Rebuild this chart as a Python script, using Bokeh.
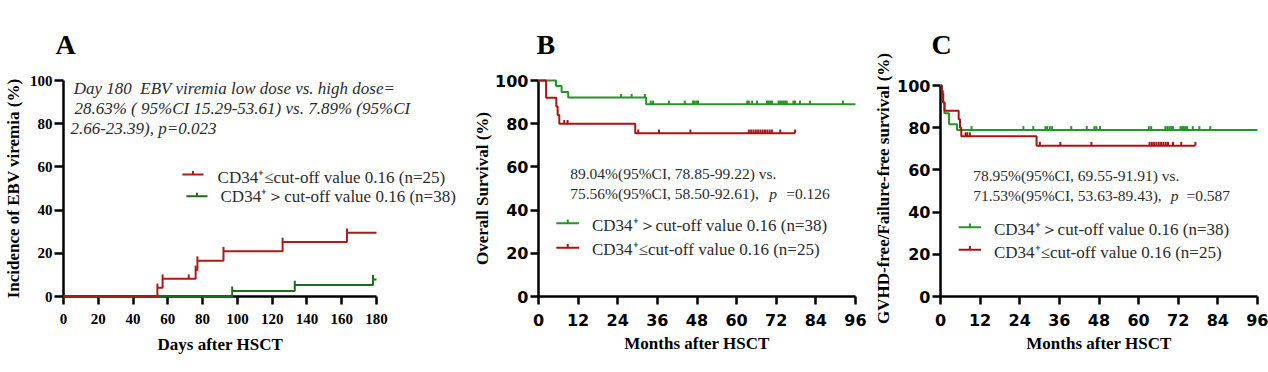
import numpy as np
from bokeh.plotting import figure
from bokeh.layouts import row
from bokeh.models import Range1d, FixedTicker, Label, Title
from bokeh.embed import file_html
from bokeh.resources import INLINE

# ---------------- data ----------------
# Panel A: cumulative incidence of EBV viremia (%), days after HSCT
a_red_t = [0, 54, 57, 76, 77, 92, 126, 163]
a_red_v = [0, 4.0, 8.2, 12.3, 16.6, 21.0, 25.2, 29.5]
a_red_end = 180
a_red_cens = [54, 57, 72, 76, 77, 92, 126, 163]
a_green_t = [0, 97, 133, 178]
a_green_v = [0, 2.6, 5.3, 7.9]
a_green_end = 180
a_green_cens = [97, 133, 178]

# Panel B: overall survival (%), months after HSCT
b_green_t = [0, 5.3, 7.0, 9.0, 32.6]
b_green_v = [100, 97.4, 94.7, 92.1, 89.0]
b_green_end = 96
b_green_cens = [25.0, 28.2, 32.2, 34.0, 34.7, 39.5, 44.3, 46.8, 47.3, 47.9, 48.3,
                63.2, 63.7, 64.7, 66.2, 69.2, 69.7, 70.2, 70.7, 72.7, 73.2, 73.7,
                74.2, 74.7, 75.2, 77.2, 77.7, 79.2, 82.2, 92.2]
b_red_t = [0, 2.3, 5.4, 5.8, 6.3, 29.3]
b_red_v = [100, 92, 88, 84, 80, 75.6]
b_red_end = 77.7
b_red_cens = [7.8, 8.8, 30.2, 36.5, 46.0, 63.7, 64.4, 65.1, 65.8, 66.5, 67.2,
              67.9, 68.6, 69.3, 70.0, 70.7, 73.2, 77.7]

# Panel C: GVHD-free/failure-free survival (%), months after HSCT
c_green_t = [0, 0.4, 0.8, 1.2, 2.6, 5.0]
c_green_v = [100, 97.4, 92.1, 86.8, 81.6, 78.95]
c_green_end = 96
c_green_cens = [9.4, 25.1, 28.1, 31.8, 32.3, 33.1, 33.8, 39.6, 44.3, 46.6, 47.2,
                48.3, 63.1, 63.8, 68.1, 68.7, 69.3, 69.9, 70.4, 72.7, 73.2, 73.7,
                74.2, 74.7, 76.4, 78.4, 81.7]
c_red_t = [0, 0.4, 0.8, 1.2, 5.5, 5.9, 6.3, 29.1]
c_red_v = [100, 96, 92, 88, 84, 80, 76, 71.5]
c_red_end = 77.2
c_red_cens = [7.6, 8.1, 8.9, 30.1, 36.3, 45.7, 63.3, 64.0, 64.7, 65.4, 66.1,
              66.8, 67.5, 68.2, 68.9, 70.4, 72.9, 77.2]

a_xticks = [0, 20, 40, 60, 80, 100, 120, 140, 160, 180]
m_xticks = [0, 12, 24, 36, 48, 60, 72, 84, 96]
y_ticks = [0, 20, 40, 60, 80, 100]

lab_le = "CD34\u207a\u2264cut-off value 0.16 (n=25)"
lab_gt = "CD34\u207a\uff1ecut-off value 0.16 (n=38)"

SERIF = "Liberation Serif"
SANS = "DejaVu Sans"
TXT = "#2b2b2b"

RED_A, GREEN_A = "#a81c1c", "#1b6e1b"
RED, GREEN = "#a51515", "#25952a"

TOP, BOTTOM = 80, 76          # shared frame borders (frames align across the row)


def panel(letter, width, mb_left, mb_right, x_end, axis_end, y_end, xticks,
          xlabel, ylabel, tick_font, tick_size, ytick_out, ylab_standoff,
          ytk_standoff, letter_offset):
    p = figure(width=width, height=372, x_range=Range1d(0, x_end),
               y_range=Range1d(0, y_end), output_backend="svg",
               toolbar_location=None, min_border_left=mb_left,
               min_border_right=mb_right, min_border_top=TOP,
               min_border_bottom=BOTTOM, title=letter)
    p.title.text_font = SERIF
    p.title.text_font_style = "bold"
    p.title.text_font_size = "28px"
    p.title.text_color = "black"
    p.title.align = "left"
    p.title.offset = letter_offset
    p.title.standoff = 42
    p.outline_line_color = None
    p.grid.visible = False
    p.xaxis.ticker = FixedTicker(ticks=xticks)
    p.yaxis.ticker = FixedTicker(ticks=y_ticks)
    p.xaxis.bounds = (0, axis_end)
    p.yaxis.bounds = (0, 100)
    if xlabel:
        p.xaxis.axis_label = xlabel
    p.yaxis.axis_label = ylabel
    for ax in (p.xaxis[0], p.yaxis[0]):
        ax.axis_line_width = 2.5
        ax.axis_line_color = "black"
        ax.major_tick_line_width = 2.5
        ax.major_tick_line_color = "black"
        ax.major_tick_in = 0
        ax.minor_tick_line_color = None
        ax.major_label_text_font = tick_font
        ax.major_label_text_font_style = "bold"
        ax.major_label_text_font_size = tick_size
        ax.major_label_text_color = "black"
        ax.axis_label_text_font = SERIF
        ax.axis_label_text_font_style = "bold"
        ax.axis_label_text_font_size = "17px"
        ax.axis_label_text_color = "black"
    p.xaxis[0].major_tick_out = 8
    p.xaxis[0].major_label_standoff = 9
    p.xaxis[0].axis_label_standoff = 5
    p.yaxis[0].major_tick_out = ytick_out
    p.yaxis[0].major_label_standoff = ytk_standoff
    p.yaxis[0].axis_label_standoff = ylab_standoff
    return p


def curve(p, t, v, end, cens, color, th):
    xs = list(t) + [end]
    ys = list(v) + [v[-1]]
    p.step(xs, ys, mode="after", line_color=color, line_width=2, level="overlay")
    idx = np.searchsorted(np.array(t), np.array(cens), side="right") - 1
    cy = np.array(v)[idx]
    p.segment(x0=cens, y0=cy, x1=cens, y1=cy + th, line_color=color, line_width=2,
              level="overlay")


def legend_item(p, x0, x1, y, color, th, tx, ty, text):
    p.segment(x0=[x0], y0=[y], x1=[x1], y1=[y], line_color=color, line_width=2)
    xm = (x0 + x1) / 2
    p.segment(x0=[xm], y0=[y], x1=[xm], y1=[y + th], line_color=color, line_width=2)
    p.add_layout(Label(x=tx, y=ty, text=text, text_font=SERIF,
                       text_font_size="17px", text_color=TXT,
                       text_baseline="middle"))


def note(p, x, y, s, style="normal", size="15.5px"):
    p.add_layout(Label(x=x, y=y, text=s, text_font=SERIF, text_font_style=style,
                       text_font_size=size, text_color=TXT, text_baseline="middle"))


# ---------------- Panel A ----------------
# frame of panel A is widened to the right (same scale) so its notes fit; axis stops at 180
a_frame_w = 470 - 63 - 4
a_x_end = 180 * a_frame_w / 313
pa = panel("A", 470, 63, 4, a_x_end, 180, 100, a_xticks, None,
           "Incidence of EBV viremia (%)", SERIF, "15px", 9, 4, 2, -8)
pa.add_layout(Title(text="Days after HSCT", text_font=SERIF, text_font_style="bold",
                    text_font_size="17px", text_color="black", align="left",
                    offset=94, standoff=13), "below")
curve(pa, a_green_t, a_green_v, a_green_end, a_green_cens, GREEN_A, 2.0)
curve(pa, a_red_t, a_red_v, a_red_end, a_red_cens, RED_A, 2.0)
note(pa, 5.9, 96.4, "Day 180\u00a0 EBV viremia low dose vs. high dose=", "italic", "17px")
note(pa, 6.3, 87.0, "28.63% ( 95%CI 15.29-53.61) vs. 7.89% (95%CI", "italic", "17px")
note(pa, 4.0, 77.8, "2.66-23.39), p=0.023", "italic", "17px")
legend_item(pa, 68.4, 80.5, 56.5, RED_A, 1.6, 88.6, 55.3, lab_le)
legend_item(pa, 70.7, 82.8, 46.4, GREEN_A, 1.6, 90.3, 46.1, lab_gt)

# ---------------- Panel B ----------------
pb = panel("B", 400, 65, 15, 96, 96, 100, m_xticks, "Months after HSCT",
           "Overall Survival (%)", SANS, "16px", 8, 0, 2, -2)
curve(pb, b_green_t, b_green_v, b_green_end, b_green_cens, GREEN, 1.7)
curve(pb, b_red_t, b_red_v, b_red_end, b_red_cens, RED, 1.7)
note(pb, 9.6, 56.9, "89.04%(95%CI, 78.85-99.22) vs.")
note(pb, 9.6, 47.6, "75.56%(95%CI, 58.50-92.61), ")
note(pb, 69.9, 47.6, "p", "italic")
note(pb, 75.0, 47.6, "=0.126")
legend_item(pb, 5.4, 12.3, 33.9, GREEN, 1.7, 16.2, 32.9, lab_gt)
legend_item(pb, 5.4, 12.3, 22.6, RED, 1.7, 16.2, 21.6, lab_le)

# ---------------- Panel C ----------------
# the C axis starts 5px lower than A/B: range top is raised so 100 sits 5px below frame top
c_y_end = 100 * (372 - TOP - BOTTOM) / (372 - 85 - BOTTOM)
pc = panel("C", 398, 70, 11, 96, 96, c_y_end, m_xticks, "Months after HSCT",
           "GVHD-free/Failure-free survival (%)", SANS, "16px", 8, 1, 2, -9)
curve(pc, c_green_t, c_green_v, c_green_end, c_green_cens, GREEN, 1.8)
curve(pc, c_red_t, c_red_v, c_red_end, c_red_cens, RED, 1.8)
note(pc, 9.9, 57.4, "78.95%(95%CI, 69.55-91.91) vs.")
note(pc, 9.9, 47.8, "71.53%(95%CI, 53.63-89.43), ")
note(pc, 69.7, 47.8, "p", "italic")
note(pc, 74.5, 47.8, "=0.587")
legend_item(pc, 5.5, 12.3, 32.8, GREEN, 1.8, 16.2, 31.7, lab_gt)
legend_item(pc, 5.5, 12.3, 22.1, RED, 1.8, 16.2, 21.0, lab_le)

layout = row(pa, pb, pc)
open("out.html", "w").write(file_html(layout, INLINE))
